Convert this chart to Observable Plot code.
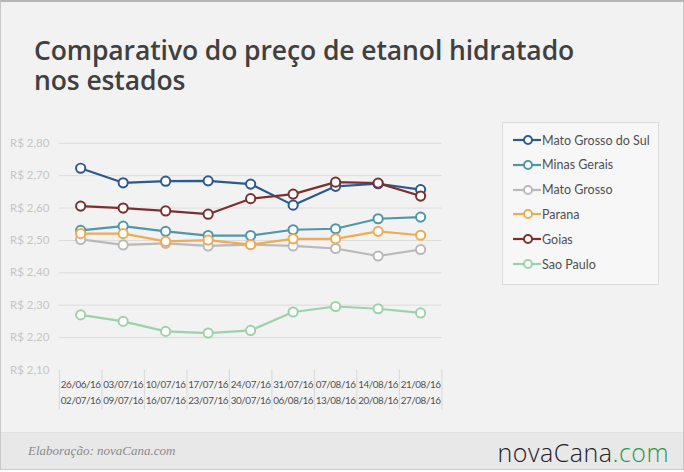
<!DOCTYPE html>
<html><head><meta charset="utf-8">
<script src="https://cdn.jsdelivr.net/npm/d3@7"></script>
<script src="https://cdn.jsdelivr.net/npm/@observablehq/plot@0.6"></script>
<style>
html,body{margin:0;padding:0;background:#fff;}
#frame{position:relative;width:682px;height:467px;background:#f2f2f2;border:1px solid #c9c9c9;border-top:2px solid #b5b5b5;overflow:hidden;font-family:Lato,"Open Sans",sans-serif;}
#title{position:absolute;left:33px;top:33px;font-size:26.5px;line-height:30px;color:#404040;font-weight:600;font-family:"Open Sans",sans-serif;letter-spacing:-0.1px;}
#title div{height:30px;}
#chart{position:absolute;left:-1px;top:-2px;}
#chart g[aria-label="x-axis tick label"] text{letter-spacing:-0.45px;}
#legend{position:absolute;left:501px;top:120px;width:155px;height:161px;background:#f7f7f7;border:1px solid #dcdcdc;}
.item{position:absolute;left:10px;height:20px;display:flex;align-items:center;font-size:12.5px;color:#505050;}
#footer{position:absolute;left:0;top:430px;width:682px;height:37px;background:#e8e8e8;border-top:1px solid #e0e0e0;}
#credit{position:absolute;left:27px;top:10px;font-size:13px;font-style:italic;color:#8a8a8a;font-family:"Liberation Serif",serif;}
#logo{position:absolute;right:14px;top:2px;font-size:25px;font-weight:300;color:#222;font-family:"Open Sans",sans-serif;letter-spacing:0.5px;}
#logo span{color:#2a9a48;}
</style></head>
<body>
<div id="frame">
  <div id="title"><div>Comparativo do preço de etanol hidratado</div><div>nos estados</div></div>
  <div id="chart"></div>
  <div id="legend"></div>
  <div id="footer"><div id="credit">Elaboração: novaCana.com</div><div id="logo">novaCana<span>.com</span></div></div>
</div>
<script>
const weekStart = ["26/06/16","03/07/16","10/07/16","17/07/16","24/07/16","31/07/16","07/08/16","14/08/16","21/08/16"];
const weekEnd   = ["02/07/16","09/07/16","16/07/16","23/07/16","30/07/16","06/08/16","13/08/16","20/08/16","27/08/16"];
const seriesNames = ["Mato Grosso do Sul","Minas Gerais","Mato Grosso","Parana","Goias","Sao Paulo"];
const seriesColors = ["#2d5a8e","#4e98aa","#b9b9b9","#f0ab52","#7c2f30","#9dd2a9"];
const matoGrossoDoSul = [2.723,2.678,2.683,2.684,2.674,2.609,2.667,2.675,2.657];
const minasGerais     = [2.531,2.544,2.528,2.515,2.515,2.533,2.536,2.567,2.572];
const matoGrosso      = [2.503,2.486,2.491,2.483,2.487,2.483,2.475,2.452,2.472];
const parana          = [2.521,2.521,2.497,2.501,2.487,2.505,2.505,2.528,2.516];
const goias           = [2.606,2.600,2.591,2.581,2.629,2.643,2.680,2.677,2.637];
const saoPaulo        = [2.270,2.250,2.219,2.214,2.222,2.279,2.296,2.289,2.276];
const yTicks = [2.1,2.2,2.3,2.4,2.5,2.6,2.7,2.8];

const seriesValues = [matoGrossoDoSul,minasGerais,matoGrosso,parana,goias,saoPaulo];
const idx = weekStart.map((_, i) => i);
const bounds = [...idx.map(i => i - 0.5), idx.length - 0.5];
const tables = seriesValues.map((vals, s) => vals.map((v, i) => ({i, v, name: seriesNames[s]})));

const fmt = v => "R$ " + v.toFixed(2).replace(".", ",");

const chart = Plot.plot({
  width: 684, height: 420,
  marginLeft: 59, marginRight: 242, marginTop: 143, marginBottom: 50,
  style: {background: "transparent", fontFamily: "Lato, sans-serif"},
  x: {type: "linear", domain: [-0.5, idx.length - 0.5]},
  y: {domain: [2.1, 2.8]},
  marks: [
    Plot.gridY(yTicks.slice(1), {stroke: "#dcdcdc", strokeOpacity: 1, strokeWidth: 1}),
    Plot.axisY({ticks: yTicks, tickSize: 0, tickPadding: 10, tickFormat: fmt, fill: "#c6c6c6", fontSize: 11.5, label: null}),
    Plot.axisX({ticks: idx, tickSize: 0, tickPadding: 6, lineHeight: 1.65, tickFormat: i => weekStart[i] + "\n" + weekEnd[i], fill: "#505050", fontSize: 9.9, label: null}),
    Plot.ruleX(bounds, {x: d => d, insetTop: 227, insetBottom: -40, stroke: "#d8d8d8", strokeWidth: 1}),
    ...tables.flatMap((t, s) => [
      Plot.line(t, {x: "i", y: "v", stroke: seriesColors[s], strokeWidth: 2.2}),
      Plot.dot(t, {x: "i", y: "v", r: 4.6, fill: "white", stroke: seriesColors[s], strokeWidth: 2})
    ])
  ]
});
document.getElementById("chart").appendChild(chart);

const legend = document.getElementById("legend");
seriesNames.forEach((n, s) => {
  const d = document.createElement("div");
  d.className = "item";
  d.style.top = (7 + s * 24.8) + "px";
  d.innerHTML = `<svg width="29" height="12"><line x1="0" x2="28" y1="6" y2="6" stroke="${seriesColors[s]}" stroke-width="2.2"/><circle cx="15" cy="6" r="4" fill="white" stroke="${seriesColors[s]}" stroke-width="2"/></svg>${n}`;
  legend.appendChild(d);
});
</script>
</body></html>
